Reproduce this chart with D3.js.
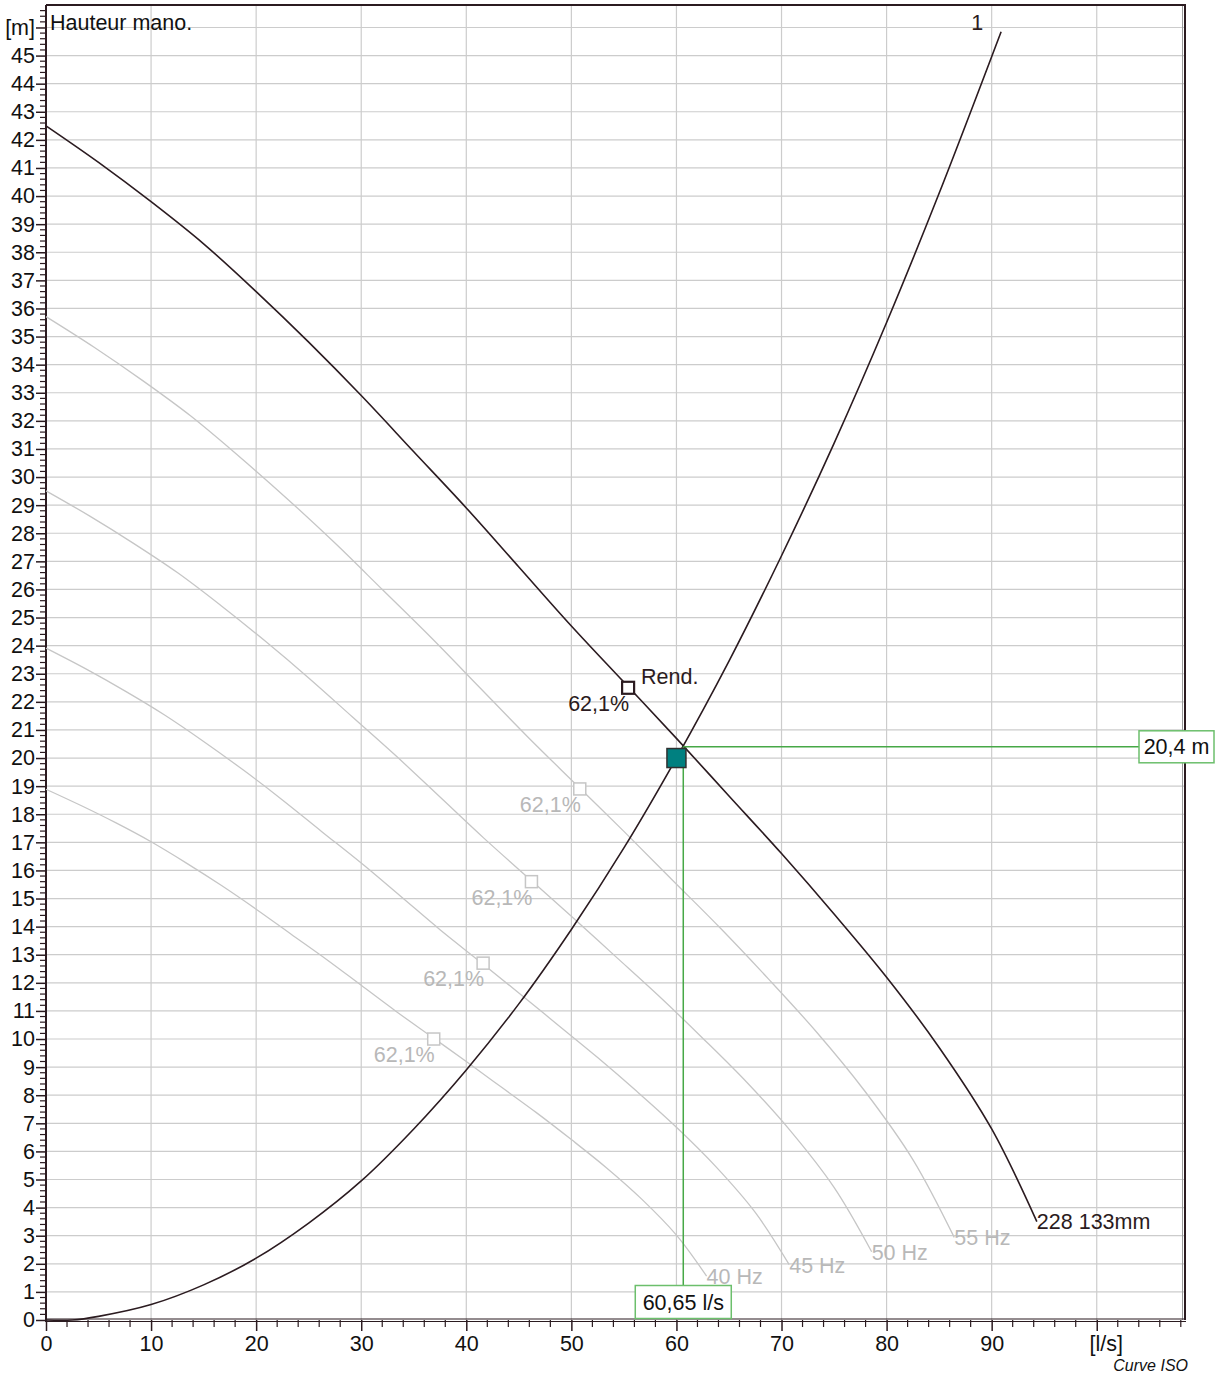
<!DOCTYPE html>
<html>
<head>
<meta charset="utf-8">
<script src="https://cdn.jsdelivr.net/npm/d3@7"></script>
<style>
  html, body { margin: 0; padding: 0; background: #fff; }
  svg { display: block; font-family: "Liberation Sans", Arial, sans-serif; }
</style>
</head>
<body>
<svg id="chart" width="1222" height="1376"></svg>
<script>
// Pump performance at 60 Hz, impeller "228 133mm" (flow l/s, head m)
const pumpFlow = [0, 5, 10, 15, 20, 25, 30, 35, 40, 45, 50, 55, 60, 65, 70, 75, 80, 85, 90, 94.3];
const pumpHead = [42.5, 41.2, 39.8, 38.3, 36.6, 34.8, 32.9, 30.9, 28.9, 26.8, 24.7, 22.7, 20.7, 18.65, 16.6, 14.45, 12.2, 9.7, 6.8, 3.5];

// Reduced-speed curves
const hz55Flow = [0, 4.58, 9.17, 13.75, 18.33, 22.92, 27.5, 32.08, 36.67, 41.25, 45.83, 50.42, 55.0, 59.58, 64.17, 68.75, 73.33, 77.92, 82.5, 86.44];
const hz55Head = [35.71, 34.62, 33.44, 32.18, 30.75, 29.24, 27.65, 25.97, 24.28, 22.52, 20.76, 19.07, 17.39, 15.67, 13.95, 12.14, 10.25, 8.15, 5.71, 2.94];
const hz50Flow = [0, 4.17, 8.33, 12.5, 16.67, 20.83, 25, 29.17, 33.33, 37.5, 41.67, 45.83, 50, 54.17, 58.33, 62.5, 66.67, 70.83, 75, 78.58];
const hz50Head = [29.51, 28.61, 27.64, 26.60, 25.42, 24.17, 22.85, 21.46, 20.07, 18.61, 17.15, 15.76, 14.37, 12.95, 11.53, 10.03, 8.47, 6.74, 4.72, 2.43];
const hz45Flow = [0, 3.75, 7.5, 11.25, 15, 18.75, 22.5, 26.25, 30, 33.75, 37.5, 41.25, 45, 48.75, 52.5, 56.25, 60, 63.75, 67.5, 70.73];
const hz45Head = [23.91, 23.18, 22.39, 21.54, 20.59, 19.58, 18.51, 17.38, 16.26, 15.08, 13.89, 12.77, 11.64, 10.49, 9.34, 8.13, 6.86, 5.46, 3.83, 1.97];
const hz40Flow = [0, 3.33, 6.67, 10, 13.33, 16.67, 20, 23.33, 26.67, 30, 33.33, 36.67, 40, 43.33, 46.67, 50, 53.33, 56.67, 60, 62.87];
const hz40Head = [18.89, 18.31, 17.69, 17.02, 16.27, 15.47, 14.62, 13.73, 12.84, 11.91, 10.98, 10.09, 9.2, 8.29, 7.38, 6.42, 5.42, 4.31, 3.02, 1.56];
const speedLabels = ["55 Hz", "50 Hz", "45 Hz", "40 Hz"];

// System curve "1"
const sysFlow = [0, 2.5, 5, 10, 15, 20, 25, 30, 35, 40, 45, 50, 55, 60, 65, 70, 75, 80, 85, 90.9];
const sysHead = [0, 0, 0.13, 0.55, 1.25, 2.2, 3.45, 4.95, 6.8, 8.9, 11.25, 13.9, 16.8, 20.0, 23.45, 27.2, 31.2, 35.5, 40.1, 45.85];

// Best efficiency points
const bepFlow = [55.4, 50.8, 46.2, 41.6, 36.9];
const bepHead = [22.5, 18.9, 15.6, 12.7, 10.0];
const bepLabels = ["62,1%", "62,1%", "62,1%", "62,1%", "62,1%"];

// Duty point and operating point
const dutyPoint = [60, 20];
const opFlow = 60.65, opHead = 20.4;
const opFlowLabel = "60,65 l/s", opHeadLabel = "20,4 m";

// Axis ticks
const xTickValues = [0, 10, 20, 30, 40, 50, 60, 70, 80, 90, 100];
const xTickLabels = ["0", "10", "20", "30", "40", "50", "60", "70", "80", "90", "[l/s]"];
const yTickLabels = d3.range(0, 46).map(String).concat(["[m]"]);

const svg = d3.select("#chart");
const x = d3.scaleLinear().domain([0, 108.4]).range([46, 1185]);
const y = d3.scaleLinear().domain([0, 46.8]).range([1320, 5]);

const dark = "#2b1b20", gridC = "#cccccc", greyC = "#c6c6c6", greyText = "#b8b8b8";
const green = "#47a847";
const FS = 21.5;

// grid
const grid = svg.append("g");
grid.selectAll("line.h").data(d3.range(1, 47)).join("line")
  .attr("x1", x(0)).attr("x2", x(108.4))
  .attr("y1", d => y(d)).attr("y2", d => y(d))
  .attr("stroke", gridC).attr("stroke-width", 1.2);
grid.selectAll("line.v").data(d3.range(10, 101, 10)).join("line")
  .attr("y1", y(0)).attr("y2", y(46.8))
  .attr("x1", d => x(d)).attr("x2", d => x(d))
  .attr("stroke", gridC).attr("stroke-width", 1.2);

// frame
svg.append("line").attr("x1", x(0)).attr("x2", 1186).attr("y1", 5).attr("y2", 5)
  .attr("stroke", dark).attr("stroke-width", 2);
svg.append("line").attr("x1", 1185).attr("x2", 1185).attr("y1", 5).attr("y2", y(0))
  .attr("stroke", dark).attr("stroke-width", 2);
svg.append("line").attr("x1", 1182.5).attr("x2", 1182.5).attr("y1", 6).attr("y2", y(0))
  .attr("stroke", "#9a9a9a").attr("stroke-width", 1);

// axes
const yMinor = d3.range(0, 234).map(i => i * 0.2).filter(v => Math.abs(v - Math.round(v)) > 1e-6);
const xMinor = d3.range(0, 55).map(i => i * 2).filter(v => v % 10 !== 0);

const yAxis = d3.axisLeft(y).tickValues(d3.range(0, 47)).tickSize(10).tickPadding(1)
  .tickFormat((d, i) => yTickLabels[i]);
const gy = svg.append("g").attr("transform", `translate(${x(0)},0)`).call(yAxis);
gy.select(".domain").remove();
gy.selectAll("line").attr("stroke", dark).attr("stroke-width", 1.5);
gy.selectAll("text").attr("font-size", FS).attr("fill", "#111").attr("font-family", "Liberation Sans, Arial, sans-serif");
gy.append("g").selectAll("line").data(yMinor).join("line")
  .attr("x1", -6).attr("x2", 0).attr("y1", d => y(d)).attr("y2", d => y(d))
  .attr("stroke", dark).attr("stroke-width", 1.2);

const xAxis = d3.axisBottom(x).tickValues(xTickValues).tickSize(11).tickPadding(5)
  .tickFormat((d, i) => xTickLabels[i]);
const gx = svg.append("g").attr("transform", `translate(0,${y(0)})`).call(xAxis);
gx.select(".domain").remove();
gx.selectAll("line").attr("stroke", dark).attr("stroke-width", 1.5);
gx.selectAll("text").attr("font-size", FS).attr("fill", "#111").attr("font-family", "Liberation Sans, Arial, sans-serif");
gx.selectAll(".tick").filter(d => d === 100).select("text").attr("x", 9);
gx.append("g").selectAll("line").data(xMinor).join("line")
  .attr("x1", d => x(d)).attr("x2", d => x(d)).attr("y1", 0).attr("y2", 7)
  .attr("stroke", dark).attr("stroke-width", 1.2);

svg.append("line").attr("x1", x(0)).attr("x2", 1186).attr("y1", y(0) - 1).attr("y2", y(0) - 1)
  .attr("stroke", dark).attr("stroke-width", 1.2);
svg.append("line").attr("x1", x(0)).attr("x2", 1186).attr("y1", y(0) + 1.5).attr("y2", y(0) + 1.5)
  .attr("stroke", dark).attr("stroke-width", 1.2);
svg.append("line").attr("x1", x(0)).attr("x2", x(0)).attr("y1", 5).attr("y2", y(0) + 2)
  .attr("stroke", dark).attr("stroke-width", 2);

const line = d3.line().x(d => x(d[0])).y(d => y(d[1])).curve(d3.curveCatmullRom.alpha(0.5));
const zip = (a, b) => a.map((v, i) => [v, b[i]]);

// reduced-speed curves
const speedCurves = [zip(hz55Flow, hz55Head), zip(hz50Flow, hz50Head), zip(hz45Flow, hz45Head), zip(hz40Flow, hz40Head)];
speedCurves.forEach((pts, i) => {
  svg.append("path").attr("d", line(pts)).attr("fill", "none")
    .attr("stroke", greyC).attr("stroke-width", 1.3);
  const end = pts[pts.length - 1];
  svg.append("text").attr("x", x(end[0])).attr("y", y(end[1]) + 8)
    .attr("font-size", FS).attr("fill", greyText).text(speedLabels[i]);
});

// system curve
svg.append("path").attr("d", line(zip(sysFlow, sysHead))).attr("fill", "none")
  .attr("stroke", dark).attr("stroke-width", 1.6);
const sysEnd = [sysFlow[sysFlow.length - 1], sysHead[sysHead.length - 1]];
svg.append("text").attr("x", x(sysEnd[0]) - 24).attr("y", y(sysEnd[1]) - 2)
  .attr("text-anchor", "middle").attr("font-size", FS).attr("fill", dark).text("1");

// pump curve
const pumpPts = zip(pumpFlow, pumpHead);
svg.append("path").attr("d", line(pumpPts)).attr("fill", "none")
  .attr("stroke", dark).attr("stroke-width", 1.6);
const pEnd = pumpPts[pumpPts.length - 1];
svg.append("text").attr("x", x(pEnd[0])).attr("y", y(pEnd[1]) + 7)
  .attr("font-size", FS).attr("fill", dark).text("228 133mm");

// operating point guides
svg.append("line").attr("x1", x(opFlow)).attr("x2", x(opFlow)).attr("y1", y(opHead)).attr("y2", y(0) - 34)
  .attr("stroke", green).attr("stroke-width", 1.5);
svg.append("line").attr("x1", x(opFlow)).attr("x2", 1139).attr("y1", y(opHead)).attr("y2", y(opHead))
  .attr("stroke", green).attr("stroke-width", 1.5);

// efficiency markers
bepFlow.forEach((q, i) => {
  const main = i === 0;
  const s = 12;
  svg.append("rect").attr("x", x(q) - s / 2).attr("y", y(bepHead[i]) - s / 2)
    .attr("width", s).attr("height", s).attr("fill", "#fff")
    .attr("stroke", main ? dark : greyC).attr("stroke-width", main ? 2.2 : 1.5);
  svg.append("text").attr("x", x(q) + 1).attr("y", y(bepHead[i]) + 23)
    .attr("text-anchor", "end").attr("font-size", FS)
    .attr("fill", main ? dark : greyText).text(bepLabels[i]);
});
svg.append("text").attr("x", x(bepFlow[0]) + 13).attr("y", y(bepHead[0]) - 4)
  .attr("font-size", FS).attr("fill", dark).text("Rend.");

// duty point
svg.append("rect").attr("x", x(dutyPoint[0]) - 9.5).attr("y", y(dutyPoint[1]) - 9.5)
  .attr("width", 19).attr("height", 19).attr("fill", "#008080")
  .attr("stroke", "#303030").attr("stroke-width", 1.5);

// value boxes
function valueBox(cx, cy, w, h, label) {
  svg.append("rect").attr("x", cx - w / 2).attr("y", cy - h / 2).attr("width", w).attr("height", h)
    .attr("fill", "#fff").attr("stroke", "#6cbf6c").attr("stroke-width", 1.5);
  svg.append("text").attr("x", cx).attr("y", cy + 7.5).attr("text-anchor", "middle")
    .attr("font-size", FS).attr("fill", "#111").text(label);
}
valueBox(1176.5, y(opHead), 75, 32, opHeadLabel);
valueBox(x(opFlow), y(0) - 18, 96, 33, opFlowLabel);

// titles
svg.append("text").attr("x", 50).attr("y", 30).attr("font-size", FS).attr("fill", "#111").text("Hauteur mano.");
svg.append("text").attr("x", 1188).attr("y", 1371).attr("text-anchor", "end")
  .attr("font-size", 16).attr("font-style", "italic").attr("fill", "#111").text("Curve ISO");
</script>
</body>
</html>
